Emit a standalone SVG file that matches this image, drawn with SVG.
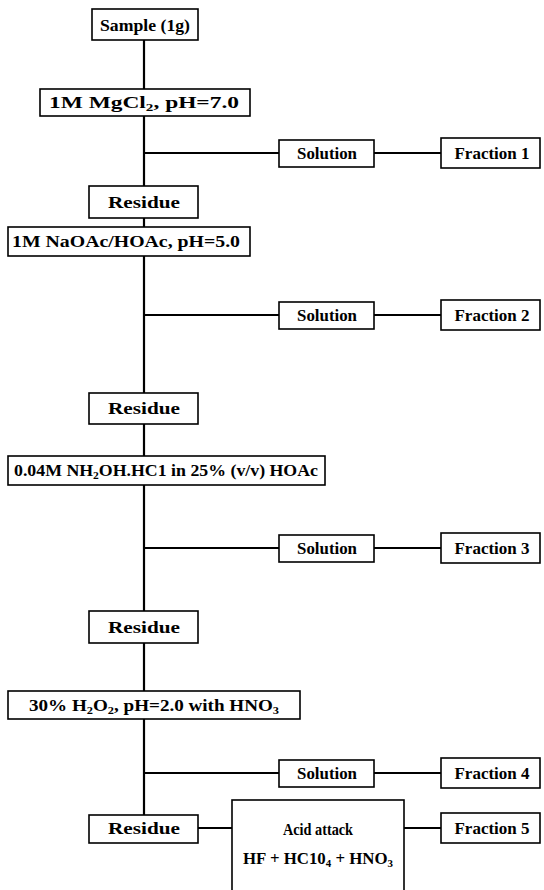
<svg xmlns="http://www.w3.org/2000/svg" width="544" height="890" viewBox="0 0 544 890">
<style>
.box{fill:#fff;stroke:#000;stroke-width:1.6}
.ln{stroke:#000;stroke-width:2.2;fill:none}
text{font-family:"Liberation Serif","Times New Roman",serif;font-weight:bold;font-size:17px;fill:#000;text-anchor:middle}
.s{font-size:11px}
</style>
<rect width="544" height="890" fill="#fff"/>
<g id="connectors">
<line class="ln" x1="144" y1="40" x2="144" y2="815"/>
<line class="ln" x1="144" y1="153" x2="279" y2="153"/>
<line class="ln" x1="374" y1="153" x2="441" y2="153"/>
<line class="ln" x1="144" y1="315" x2="279" y2="315"/>
<line class="ln" x1="374" y1="315" x2="441" y2="315"/>
<line class="ln" x1="144" y1="548" x2="279" y2="548"/>
<line class="ln" x1="374" y1="548" x2="441" y2="548"/>
<line class="ln" x1="144" y1="773" x2="279" y2="773"/>
<line class="ln" x1="374" y1="773" x2="441" y2="773"/>
<line class="ln" x1="198" y1="828" x2="232" y2="828"/>
<line class="ln" x1="404" y1="828" x2="441" y2="828"/>
</g>
<g id="sample"><rect class="box" x="92" y="9" width="106" height="31"/><text x="145" y="31" textLength="90" lengthAdjust="spacingAndGlyphs">Sample (1g)</text></g>
<g id="mgcl2"><rect class="box" x="40" y="89" width="210" height="27"/><text x="144" y="108" textLength="190" lengthAdjust="spacingAndGlyphs">1M MgCl<tspan class="s" dy="3">2</tspan><tspan dy="-3">,  pH=7.0</tspan></text></g>
<g id="solution1"><rect class="box" x="279" y="140" width="95" height="27"/><text x="327" y="159" textLength="60" lengthAdjust="spacingAndGlyphs">Solution</text></g>
<g id="fraction1"><rect class="box" x="441" y="138" width="99" height="30"/><text x="492" y="159" textLength="75" lengthAdjust="spacingAndGlyphs">Fraction 1</text></g>
<g id="residue1"><rect class="box" x="89" y="186" width="109" height="32"/><text x="144" y="208" textLength="72" lengthAdjust="spacingAndGlyphs">Residue</text></g>
<g id="naoac"><rect class="box" x="8" y="227" width="242" height="29"/><text x="126" y="247" textLength="228" lengthAdjust="spacingAndGlyphs">1M NaOAc/HOAc, pH=5.0</text></g>
<g id="solution2"><rect class="box" x="279" y="302" width="95" height="27"/><text x="327" y="321" textLength="60" lengthAdjust="spacingAndGlyphs">Solution</text></g>
<g id="fraction2"><rect class="box" x="441" y="300" width="99" height="30"/><text x="492" y="321" textLength="75" lengthAdjust="spacingAndGlyphs">Fraction 2</text></g>
<g id="residue2"><rect class="box" x="89" y="393" width="109" height="31"/><text x="144" y="414" textLength="72" lengthAdjust="spacingAndGlyphs">Residue</text></g>
<g id="nh2oh"><rect class="box" x="8" y="456" width="317" height="29"/><text x="166" y="476" textLength="304" lengthAdjust="spacingAndGlyphs">0.04M NH<tspan class="s" dy="3">2</tspan><tspan dy="-3">OH.HC1 in 25% (v/v) HOAc</tspan></text></g>
<g id="solution3"><rect class="box" x="279" y="535" width="95" height="27"/><text x="327" y="554" textLength="60" lengthAdjust="spacingAndGlyphs">Solution</text></g>
<g id="fraction3"><rect class="box" x="441" y="533" width="99" height="30"/><text x="492" y="554" textLength="75" lengthAdjust="spacingAndGlyphs">Fraction 3</text></g>
<g id="residue3"><rect class="box" x="89" y="611" width="109" height="32"/><text x="144" y="633" textLength="72" lengthAdjust="spacingAndGlyphs">Residue</text></g>
<g id="h2o2"><rect class="box" x="8" y="691" width="292" height="28"/><text x="154" y="711" textLength="250" lengthAdjust="spacingAndGlyphs">30% H<tspan class="s" dy="3">2</tspan><tspan dy="-3">O</tspan><tspan class="s" dy="3">2</tspan><tspan dy="-3">,  pH=2.0 with HNO</tspan><tspan class="s" dy="3">3</tspan></text></g>
<g id="solution4"><rect class="box" x="279" y="760" width="95" height="27"/><text x="327" y="779" textLength="60" lengthAdjust="spacingAndGlyphs">Solution</text></g>
<g id="fraction4"><rect class="box" x="441" y="758" width="99" height="30"/><text x="492" y="779" textLength="75" lengthAdjust="spacingAndGlyphs">Fraction 4</text></g>
<g id="residue4"><rect class="box" x="89" y="815" width="109" height="28"/><text x="144" y="834" textLength="72" lengthAdjust="spacingAndGlyphs">Residue</text></g>
<g id="acid"><rect class="box" x="232" y="800" width="172" height="95"/><text x="318" y="835" textLength="70" lengthAdjust="spacingAndGlyphs">Acid attack</text><text x="318" y="864" textLength="150" lengthAdjust="spacingAndGlyphs">HF + HC10<tspan class="s" dy="3">4</tspan><tspan dy="-3"> + HNO</tspan><tspan class="s" dy="3">3</tspan></text></g>
<g id="fraction5"><rect class="box" x="441" y="813" width="99" height="30"/><text x="492" y="834" textLength="75" lengthAdjust="spacingAndGlyphs">Fraction 5</text></g>
</svg>
